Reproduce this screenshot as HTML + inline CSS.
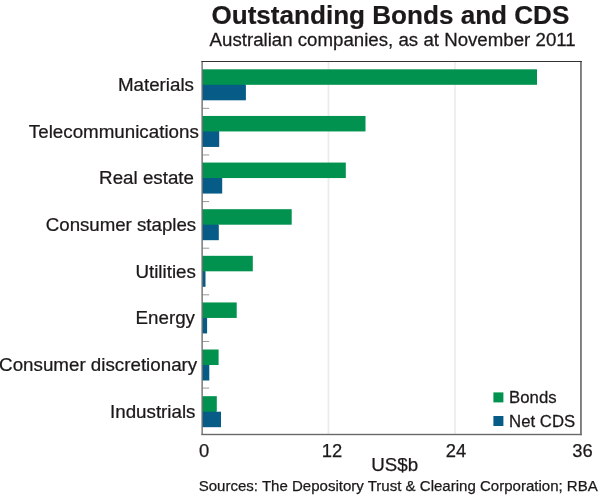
<!DOCTYPE html>
<html lang="en">
<head>
<meta charset="utf-8">
<title>Outstanding Bonds and CDS</title>
<style>
html,body{margin:0;padding:0;background:#fff;}
body{width:600px;height:496px;overflow:hidden;}
svg{display:block;}
text{font-family:"Liberation Sans",Arial,Helvetica,sans-serif;fill:#1c191a;stroke:#1c191a;stroke-width:0.25px;}
.t{font-weight:bold;font-size:25.2px;stroke-width:0.2px;}
.s{font-size:18.2px;}
.l{font-size:18.75px;}
.k{font-size:16.3px;}
.n{font-size:18.4px;}
.f{font-size:15.04px;}
</style>
</head>
<body>
<svg width="600" height="496" viewBox="0 0 600 496">
<rect x="0" y="0" width="600" height="496" fill="#ffffff"/>
<text class="t" transform="translate(390.4 24) scale(1.0355 1)" x="0" y="0" text-anchor="middle">Outstanding Bonds and CDS</text>
<text class="s" transform="translate(392.6 46) scale(1.0265 1)" x="0" y="0" text-anchor="middle">Australian companies, as at November 2011</text>
<rect x="327" y="61.50" width="1" height="373.00" fill="#f7f7f7"/>
<rect x="328" y="61.50" width="1" height="373.00" fill="#ececec"/>
<rect x="329" y="61.50" width="1" height="373.00" fill="#f8f8f8"/>
<rect x="454" y="61.50" width="1" height="373.00" fill="#efefef"/>
<rect x="455" y="61.50" width="1" height="373.00" fill="#efefef"/>
<rect x="202.20" y="69.31" width="334.80" height="15.50" fill="#00924E"/>
<rect x="202.20" y="84.81" width="43.70" height="15.50" fill="#065C87"/>
<rect x="202.20" y="84" width="42.80" height="1" fill="#018859"/>
<text class="l" transform="translate(194.0 91.0) scale(1.001 1)" text-anchor="end">Materials</text>
<rect x="202.20" y="115.94" width="163.30" height="15.50" fill="#00924E"/>
<rect x="202.20" y="131.44" width="17.00" height="15.50" fill="#065C87"/>
<rect x="202.20" y="131" width="16.80" height="1" fill="#03746e"/>
<text class="l" transform="translate(198.8 137.6) scale(1.001 1)" text-anchor="end">Telecommunications</text>
<rect x="202.20" y="162.56" width="143.60" height="15.50" fill="#00924E"/>
<rect x="202.20" y="178.06" width="20.00" height="15.50" fill="#065C87"/>
<rect x="202.20" y="178" width="19.80" height="1" fill="#065f83"/>
<text class="l" transform="translate(194.0 184.0) scale(1.001 1)" text-anchor="end">Real estate</text>
<rect x="202.20" y="209.19" width="89.50" height="15.50" fill="#00924E"/>
<rect x="202.20" y="224.69" width="16.60" height="15.50" fill="#065C87"/>
<rect x="202.20" y="224" width="15.80" height="1" fill="#028160"/>
<text class="l" style="font-size:18.65px" transform="translate(196.1 231.0) scale(1.001 1)" text-anchor="end">Consumer staples</text>
<rect x="202.20" y="255.81" width="50.60" height="15.50" fill="#00924E"/>
<rect x="202.20" y="271.31" width="3.30" height="15.50" fill="#065C87"/>
<rect x="202.20" y="271" width="2.80" height="1" fill="#046d75"/>
<text class="l" transform="translate(195.9 277.6) scale(1.001 1)" text-anchor="end">Utilities</text>
<rect x="202.20" y="302.44" width="34.50" height="15.50" fill="#00924E"/>
<rect x="202.20" y="317.94" width="4.90" height="15.50" fill="#065C87"/>
<rect x="202.20" y="317" width="4.80" height="1" fill="#008f52"/>
<text class="l" transform="translate(195.0 324.4) scale(1.001 1)" text-anchor="end">Energy</text>
<rect x="202.20" y="349.51" width="16.40" height="15.50" fill="#00924E"/>
<rect x="202.20" y="365.01" width="7.10" height="15.50" fill="#065C87"/>
<rect x="202.20" y="365" width="6.80" height="1" fill="#065d86"/>
<text class="l" transform="translate(197.2 371.2) scale(1.001 1)" text-anchor="end">Consumer discretionary</text>
<rect x="202.20" y="396.19" width="14.60" height="15.50" fill="#00924E"/>
<rect x="202.20" y="411.69" width="18.80" height="15.50" fill="#065C87"/>
<rect x="202.20" y="411" width="13.80" height="1" fill="#028160"/>
<text class="l" transform="translate(195.5 417.8) scale(1.001 1)" text-anchor="end">Industrials</text>
<rect x="202.50" y="107.83" width="6.7" height="1" fill="#999999"/>
<rect x="202.50" y="154.45" width="6.7" height="1" fill="#999999"/>
<rect x="202.50" y="201.07" width="6.7" height="1" fill="#999999"/>
<rect x="202.50" y="247.70" width="6.7" height="1" fill="#999999"/>
<rect x="202.50" y="294.32" width="6.7" height="1" fill="#999999"/>
<rect x="202.50" y="340.95" width="6.7" height="1" fill="#999999"/>
<rect x="202.50" y="387.57" width="6.7" height="1" fill="#999999"/>
<rect x="201.45" y="61" width="1.35" height="374" fill="#6c6c6c"/>
<rect x="580.1" y="61" width="1.7" height="374.2" fill="#6e6e6e"/>
<rect x="201.4" y="61" width="380.4" height="1" fill="#333333"/>
<rect x="201.4" y="433.8" width="380.4" height="1.4" fill="#6a6a6a"/>
<text class="n" x="204.0" y="456.8" text-anchor="middle">0</text>
<text class="n" x="332.0" y="456.8" text-anchor="middle">12</text>
<text class="n" x="456.0" y="456.8" text-anchor="middle">24</text>
<text class="n" x="582.4" y="456.8" text-anchor="middle">36</text>
<text class="l" x="394.7" y="471" text-anchor="middle">US$b</text>
<text class="f" x="198.7" y="491" >Sources: The Depository Trust &amp; Clearing Corporation; RBA</text>
<rect x="493.4" y="392.4" width="10" height="10" fill="#00924E"/>
<rect x="493.4" y="416" width="10" height="10" fill="#065C87"/>
<text class="k" transform="translate(509.1 403.3) scale(1.028 1)" x="0" y="0">Bonds</text>
<text class="k" transform="translate(509.1 426.9) scale(1.028 1)" x="0" y="0">Net CDS</text>
</svg>
</body>
</html>
